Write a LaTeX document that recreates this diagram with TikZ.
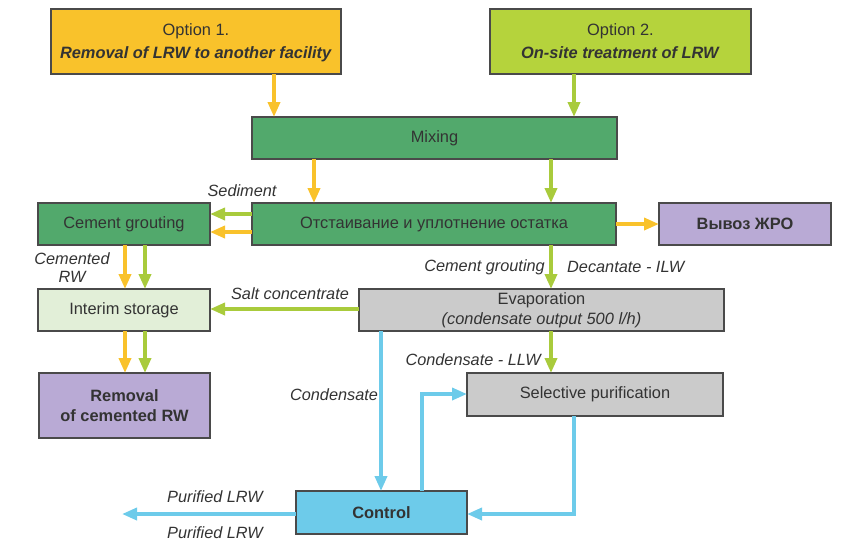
\documentclass[tikz,border=0pt]{standalone}
\usepackage{fontspec}
\setmainfont{Liberation Sans}
\usetikzlibrary{arrows.meta,calc}

\definecolor{optA}{HTML}{F9C22B}
\definecolor{optB}{HTML}{B5D33C}
\definecolor{flowO}{HTML}{F9C22B}
\definecolor{flowG}{HTML}{A9CB3C}
\definecolor{flowB}{HTML}{6DCBEA}
\definecolor{procG}{HTML}{52A96C}
\definecolor{storeG}{HTML}{E2EFD8}
\definecolor{outP}{HTML}{B9AAD5}
\definecolor{procGr}{HTML}{CBCBCB}
\definecolor{ctlB}{HTML}{6DCBEA}
\definecolor{edge}{HTML}{4A4A4A}
\definecolor{ink}{HTML}{333333}

\tikzset{
  box/.style={draw=edge, line width=1.3pt, rectangle, inner sep=0pt, outer sep=0pt,
    anchor=north west, align=center, text=ink, font=\fontsize{16.4}{23}\selectfont},
  lbl/.style={text=ink, inner sep=0pt, font=\fontsize{16.3}{19}\selectfont\itshape},
  flow/.style={line width=3.6pt, -{Triangle[width=12pt,length=15pt]}},
  oar/.style={flow, draw=flowO},
  gar/.style={flow, draw=flowG},
  bar/.style={flow, draw=flowB},
}

\begin{document}
\begin{tikzpicture}[x=1pt,y=-1pt]
\useasboundingbox (0,0) rectangle (844,547);

% process boxes (top-left corner, size)
\node[box, fill=optA, minimum width=290pt, minimum height=65pt, text depth=2pt] (opt1) at (51,9)
  {\rule{0pt}{13pt}Option 1.\\ \textbf{\textit{Removal of LRW to another facility}}};
\node[box, fill=optB, minimum width=261pt, minimum height=65pt, text depth=2pt] (opt2) at (490,9)
  {\rule{0pt}{13pt}Option 2.\\ \textbf{\textit{On-site treatment of LRW}}};
\node[box, fill=procG, minimum width=365pt, minimum height=42pt] (mix) at (252,117) {Mixing};
\node[box, fill=procG, minimum width=172pt, minimum height=42pt] (cem) at (38,203) {Cement grouting};
\node[box, fill=procG, minimum width=364pt, minimum height=42pt] (set) at (252,203)
  {Отстаивание и уплотнение остатка};
\node[box, fill=outP, minimum width=172pt, minimum height=42pt] (out) at (659,203) {\textbf{Вывоз ЖРО}};
\node[box, fill=storeG, minimum width=172pt, minimum height=42pt] (inter) at (38,289) {Interim storage};
\node[box, fill=procGr, minimum width=365pt, minimum height=42pt, font=\fontsize{16.4}{20}\selectfont] (evap) at (359,289)
  {Evaporation\\ \textit{(condensate output 500 l/h)}};
\node[box, fill=outP, minimum width=171pt, minimum height=65pt, font=\fontsize{16.4}{20}\selectfont] (rem) at (39,373)
  {\textbf{Removal}\\ \textbf{of cemented RW}};
\node[box, fill=procGr, minimum width=256pt, minimum height=43pt] (sel) at (467,373) {Selective purification};
\node[box, fill=ctlB, minimum width=171pt, minimum height=43pt] (ctl) at (296,491) {\textbf{Control}};

% free end of the discharge line
\coordinate (dis) at (122,514);

% options into mixing
\draw[oar] ([xshift=223pt]opt1.south west) coordinate (a1) -- (a1 |- mix.north);
\draw[gar] ([xshift=84pt]opt2.south west) coordinate (a2) -- (a2 |- mix.north);

% mixing into settling
\draw[oar] ([xshift=62pt]mix.south west) coordinate (a3) -- (a3 |- set.north);
\draw[gar] ([xshift=299pt]mix.south west) coordinate (a4) -- (a4 |- set.north);

% settling outputs
\draw[gar] ([yshift=-11pt]set.north west) coordinate (a5) -- (a5 -| cem.east);
\draw[oar] ([yshift=-29pt]set.north west) coordinate (a6) -- (a6 -| cem.east);
\draw[oar] (set.east) -- (out.west);
\draw[gar] ([xshift=299pt]set.south west) coordinate (a7) -- (a7 |- evap.north);

% cementing line
\draw[oar] ([xshift=87pt]cem.south west) coordinate (a8) -- (a8 |- inter.north);
\draw[gar] ([xshift=107pt]cem.south west) coordinate (a9) -- (a9 |- inter.north);
\draw[oar] ([xshift=87pt]inter.south west) coordinate (b1) -- (b1 |- rem.north);
\draw[gar] ([xshift=107pt]inter.south west) coordinate (b2) -- (b2 |- rem.north);

% evaporation outputs
\draw[gar] ([yshift=-20pt]evap.north west) coordinate (b3) -- (b3 -| inter.east);
\draw[gar] (a7 |- evap.south) -- (a7 |- sel.north);
\draw[bar] ([xshift=22pt]evap.south west) coordinate (b4) -- (b4 |- ctl.north);

% purification loop
\draw[bar] ([xshift=126pt]ctl.north west) coordinate (b5) -- (b5 |- 0,394) -- (sel.west |- 0,394);
\draw[bar] ([xshift=107pt]sel.south west) coordinate (b6) -- (b6 |- 0,514) -- (ctl.east |- 0,514);
\draw[bar] (ctl.west |- dis) -- (dis);

% stream labels
\node[lbl] (l1) at (242,191) {Sediment};
\node[lbl, align=center, font=\fontsize{16.3}{18}\selectfont\itshape] (l2) at (72,268) {Cemented\\RW};
\node[lbl, anchor=east] (l3) at (545,267) {Cement grouting};
\node[lbl, anchor=west] (l4) at (567,267) {Decantate - ILW};
\node[lbl] (l5) at (290,294) {Salt concentrate};
\node[lbl, anchor=east] (l6) at (541,360) {Condensate - LLW};
\node[lbl] (l7) at (334,395) {Condensate};
\node[lbl] (l8) at (215,497) {Purified LRW};
\node[lbl] (l9) at (215,533) {Purified LRW};
\end{tikzpicture}
\end{document}
